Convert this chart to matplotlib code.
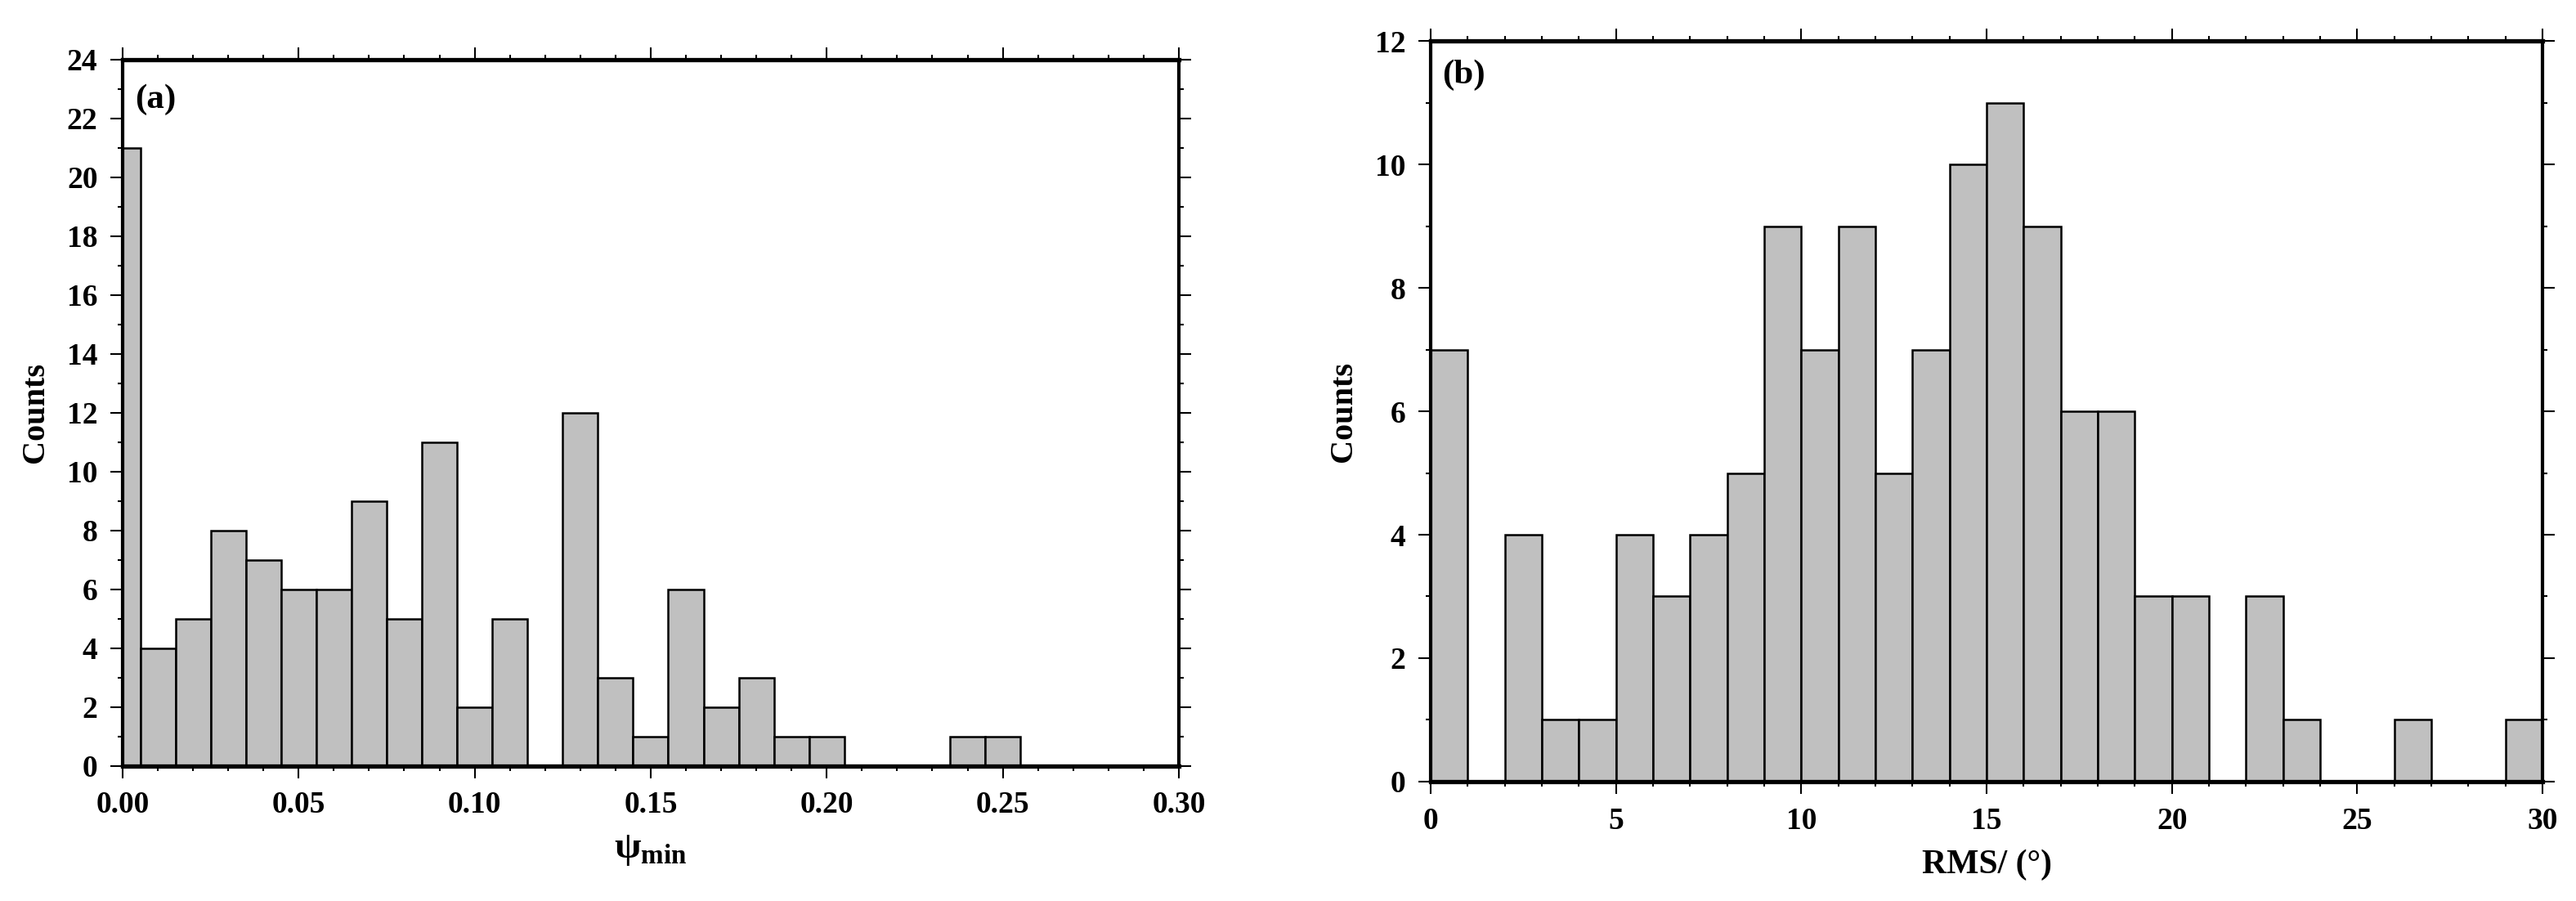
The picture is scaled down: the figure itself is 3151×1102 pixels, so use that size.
import numpy as np
import matplotlib
matplotlib.use("Agg")
import matplotlib.pyplot as plt
from matplotlib.ticker import MultipleLocator, FormatStrFormatter

plt.rcParams['font.family'] = ['Liberation Serif', 'DejaVu Serif']
plt.rcParams['font.weight'] = 'bold'
plt.rcParams['mathtext.fontset'] = 'custom'
plt.rcParams['mathtext.rm'] = 'Liberation Serif:bold'
plt.rcParams['mathtext.bf'] = 'Liberation Serif:bold'

# (a) psi_min histogram, bin width 0.01, bins centred on multiples of 0.01
psi_centers = np.round(np.arange(0.0, 0.30, 0.01), 2)
psi_counts = [21, 4, 5, 8, 7, 6, 6, 9, 5, 11, 2, 5, 0, 12, 3,
              1, 6, 2, 3, 1, 1, 0, 0, 0, 1, 1, 0, 0, 0, 0]

# (b) RMS histogram, bin width 1 degree, left edges
rms_edges = np.arange(0, 30, 1)
rms_counts = [7, 0, 4, 1, 1, 4, 3, 4, 5, 9, 7, 9, 5, 7, 10,
              11, 9, 6, 6, 3, 3, 0, 3, 1, 0, 0, 1, 0, 0, 1]

fill = '#c0c0c0'
fs = 27

fig = plt.figure(figsize=(31.51, 11.02), dpi=100)
ax1 = fig.add_axes([0.0476, 0.150, 0.410, 0.784])
ax2 = fig.add_axes([0.5554, 0.1325, 0.4316, 0.8221])


def style(ax):
    for s in ax.spines.values():
        s.set_linewidth(3.0)
    ax.spines['bottom'].set_linewidth(3.8)
    ax.spines['top'].set_linewidth(3.8)
    ax.tick_params(which='both', direction='out', top=True, right=True,
                   labeltop=False, labelright=False, width=1.5,
                   labelsize=fs, pad=11)
    ax.tick_params(which='major', length=11)
    ax.tick_params(which='minor', length=4.5)
    for lab in ax.get_xticklabels() + ax.get_yticklabels():
        lab.set_fontweight('bold')


ax1.bar(psi_centers, psi_counts, width=0.01, color=fill,
        edgecolor='black', linewidth=1.8)
ax1.set_xlim(0, 0.30)
ax1.set_ylim(0, 24)
ax1.xaxis.set_major_locator(MultipleLocator(0.05))
ax1.xaxis.set_minor_locator(MultipleLocator(0.01))
ax1.xaxis.set_major_formatter(FormatStrFormatter('%.2f'))
ax1.yaxis.set_major_locator(MultipleLocator(2))
ax1.yaxis.set_minor_locator(MultipleLocator(1))
style(ax1)
ax1.set_ylabel('Counts', fontsize=29, fontweight='bold', labelpad=14)
ax1.set_xlabel(r'$\mathrm{ψ}_{\mathrm{min}}$', fontsize=34, labelpad=12)
ax1.text(0.012, 0.965, '(a)', transform=ax1.transAxes, fontsize=31,
         fontweight='bold', va='top', ha='left')

ax2.bar(rms_edges, rms_counts, width=1.0, align='edge', color=fill,
        edgecolor='black', linewidth=1.8)
ax2.set_xlim(0, 30)
ax2.set_ylim(0, 12)
ax2.xaxis.set_major_locator(MultipleLocator(5))
ax2.xaxis.set_minor_locator(MultipleLocator(1))
ax2.yaxis.set_major_locator(MultipleLocator(2))
ax2.yaxis.set_minor_locator(MultipleLocator(1))
style(ax2)
ax2.set_ylabel('Counts', fontsize=29, fontweight='bold', labelpad=14)
ax2.set_xlabel('RMS/ (°)', fontsize=30, fontweight='bold', labelpad=12)
ax2.text(0.010, 0.975, '(b)', transform=ax2.transAxes, fontsize=31,
         fontweight='bold', va='top', ha='left')

plt.savefig('out.png', dpi=100)
